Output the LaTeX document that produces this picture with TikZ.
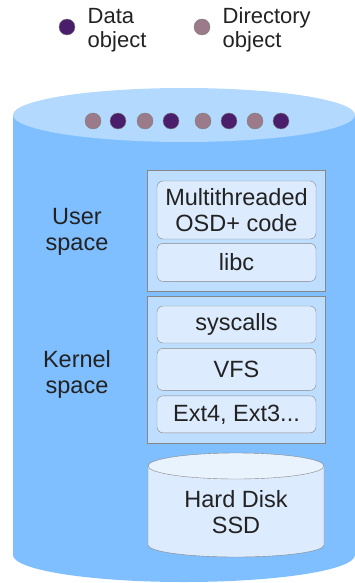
\documentclass[tikz,border=0pt]{standalone}
\usepackage{fontspec}
\setmainfont{Liberation Sans}
\usetikzlibrary{positioning}
\definecolor{tankblue}{RGB}{127,191,255}
\definecolor{tanktop}{RGB}{179,217,255}
\definecolor{layerblue}{RGB}{190,222,255}
\definecolor{boxblue}{RGB}{220,235,253}
\definecolor{disktop}{RGB}{233,243,254}
\definecolor{dataobj}{RGB}{74,30,106}
\definecolor{dirobj}{RGB}{155,122,138}
\definecolor{edgegray}{RGB}{135,135,135}
\definecolor{inkgray}{RGB}{34,34,34}

\tikzset{
  layer/.style={draw=edgegray, fill=layerblue, minimum width=178pt},
  part/.style={draw=edgegray, fill=boxblue, rounded corners=6pt, minimum width=159pt,
    align=center, text=inkgray, font=\fontsize{23.5}{26}\selectfont},
  lbl/.style={align=center, text=inkgray, font=\fontsize{23.5}{26}\selectfont},
  keytext/.style={align=left, text=inkgray, font=\fontsize{22}{24}\selectfont},
  obj/.style={circle, draw=gray, minimum size=16pt, inner sep=0pt},
}

\begin{document}
\begin{tikzpicture}[x=1pt, y=-1pt]
  \useasboundingbox (0,0) rectangle (355,583);

  % legend
  \node[obj, fill=dataobj] (datakey) at (67,27) {};
  \node[keytext, right=9pt of datakey, yshift=-3pt] (datatext) {Data\\object};
  \node[obj, fill=dirobj] (dirkey) at (202,27) {};
  \node[keytext, right=9pt of dirkey, yshift=-3pt] (dirtext) {Directory\\object};

  % storage tank
  \fill[tankblue] (184,555) ellipse [x radius=171pt, y radius=27pt];
  \fill[tankblue] (13,115) rectangle (355,555);
  \fill[tanktop] (184,115) ellipse [x radius=171pt, y radius=27pt];

  \foreach \px/\kind [count=\i] in {93/dirobj, 118/dataobj, 145/dirobj, 171/dataobj,
      203/dirobj, 229/dataobj, 255/dirobj, 281/dataobj}
    \node[obj, fill=\kind] (dot\i) at (\px,121) {};

  % user space
  \node[layer, minimum height=121pt] (userspace) at (236,230.5) {};
  \node[part, minimum height=58pt] (osdcode) at (236.5,210) {Multithreaded\\OSD+ code};
  \node[part, minimum height=38pt, below=4pt of osdcode] (libc) {libc};
  \node[lbl] (userlbl) at (77,232) {User\\space};

  % kernel space
  \node[layer, minimum height=147pt] (kernelspace) at (236,369.5) {};
  \node[part, minimum height=37pt] (syscalls) at (236.5,324.5) {syscalls};
  \node[part, minimum height=42pt, below=5pt of syscalls] (vfs) {VFS};
  \node[part, minimum height=37pt, below=5pt of vfs] (extfs) {Ext4, Ext3...};
  \node[lbl] (kernellbl) at (77,374) {Kernel\\space};

  % disk
  \filldraw[fill=boxblue, draw=edgegray] (148,466) -- (148,545)
    arc[start angle=180, end angle=360, x radius=88pt, y radius=12pt] -- (324,466);
  \filldraw[fill=disktop, draw=edgegray] (236,466) ellipse [x radius=88pt, y radius=13pt];
  \node[lbl] (disk) at (236,512) {Hard Disk\\SSD};
\end{tikzpicture}
\end{document}
